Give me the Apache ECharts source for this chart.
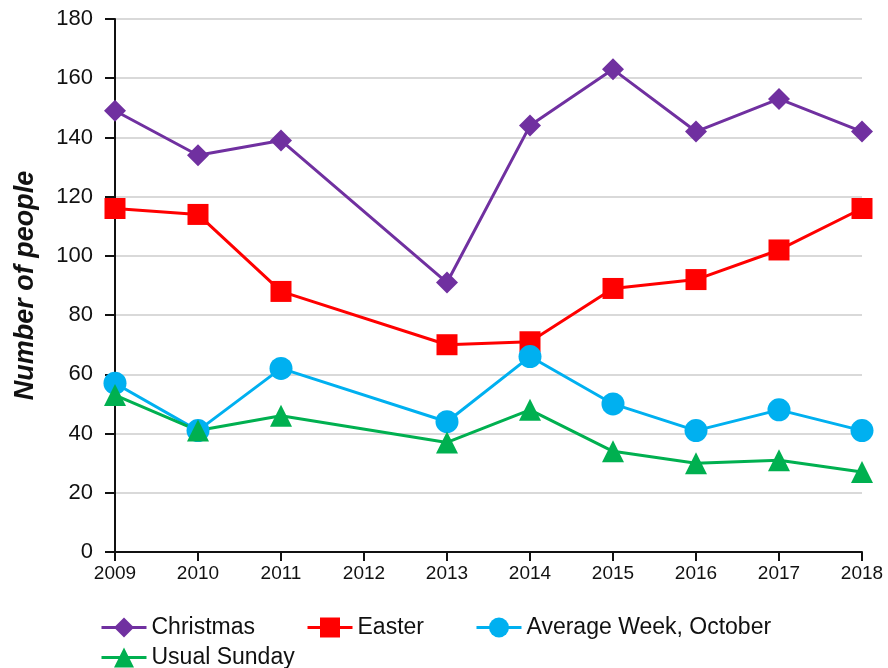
<!DOCTYPE html>
<html>
<head>
<meta charset="utf-8">
<script src="https://cdn.jsdelivr.net/npm/echarts@6/dist/echarts.min.js"></script>
<style>html,body{margin:0;padding:0;background:#fff}#c{width:888px;height:668px}</style>
</head>
<body>
<div id="c"></div>
<script>
const years = ['2009','2010','2011','2012','2013','2014','2015','2016','2017','2018'];
const christmas = [149, 134, 139, null, 91, 144, 163, 142, 153, 142];
const easter = [116, 114, 88, null, 70, 71, 89, 92, 102, 116];
const averageWeek = [57, 41, 62, null, 44, 66, 50, 41, 48, 41];
const usualSunday = [53, 41, 46, null, 37, 48, 34, 30, 31, 27];
const yTicks = { min: 0, max: 180, interval: 20 };

const FONT = 'Liberation Sans';
function mk(name, data, color, symbol, size) {
  return {
    name, type: 'line', data, connectNulls: true,
    symbol, symbolSize: size, showSymbol: true,
    lineStyle: { color, width: 3 },
    itemStyle: { color, borderWidth: 0 },
    emphasis: { disabled: true },
    animation: false
  };
}
const legendCommon = {
  itemWidth: 45, itemHeight: 25,
  lineStyle: { width: 3 },
  textStyle: { fontFamily: FONT, fontSize: 23, color: '#111' }
};
const chart = echarts.init(document.getElementById('c'), null, { renderer: 'canvas' });
chart.setOption({
  backgroundColor: '#ffffff',
  animation: false,
  grid: { left: 115, right: 26, top: 19, bottom: 116, containLabel: false },
  legend: [
    Object.assign({
      data: ['Christmas', 'Easter', 'Average Week, October'],
      left: 95, top: 611, itemGap: 51
    }, legendCommon),
    Object.assign({
      data: ['Usual Sunday'],
      left: 95, top: 641
    }, legendCommon)
  ],
  xAxis: {
    type: 'category', data: years, boundaryGap: false,
    axisLine: { lineStyle: { color: '#111', width: 2 } },
    axisTick: { show: true, length: 9, alignWithLabel: true, lineStyle: { color: '#111', width: 2 } },
    axisLabel: { fontFamily: FONT, fontSize: 19, color: '#111', margin: 12, interval: 0 },
    splitLine: { show: false }
  },
  yAxis: {
    type: 'value', min: yTicks.min, max: yTicks.max, interval: yTicks.interval,
    name: 'Number of people', nameLocation: 'middle', nameGap: 76, nameRotate: 90,
    nameTextStyle: { fontFamily: FONT, fontSize: 27, fontWeight: 'bold', fontStyle: 'italic', color: '#111' },
    axisLine: { show: true, lineStyle: { color: '#111', width: 2 } },
    axisTick: { show: true, length: 10, lineStyle: { color: '#111', width: 2 } },
    axisLabel: { fontFamily: FONT, fontSize: 22, color: '#111', margin: 22 },
    splitLine: { show: true, lineStyle: { color: '#d9d9d9', width: 2 } }
  },
  series: [
    mk('Christmas', christmas, '#7030A0', 'diamond', 22),
    mk('Easter', easter, '#FF0000', 'rect', 21),
    mk('Average Week, October', averageWeek, '#00B0F0', 'circle', 23),
    mk('Usual Sunday', usualSunday, '#00B050', 'triangle', 22)
  ]
});
</script>
</body>
</html>
